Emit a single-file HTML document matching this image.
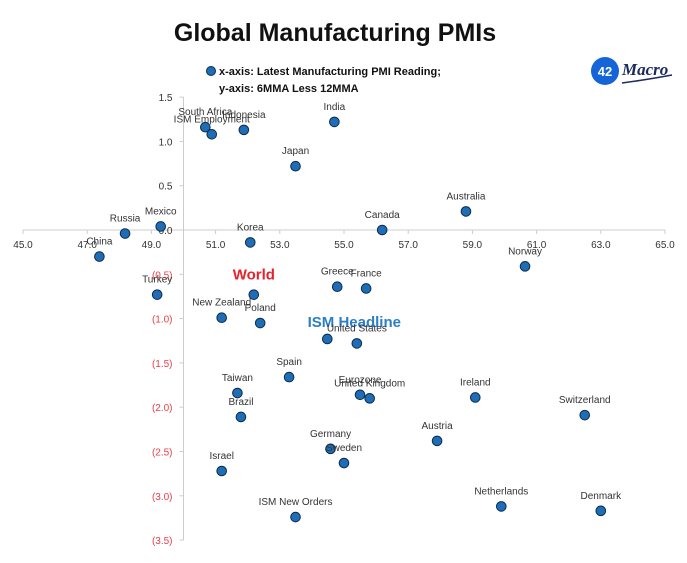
<!DOCTYPE html>
<html><head><meta charset="utf-8"><style>
body{margin:0;background:#fff;width:687px;height:558px;overflow:hidden;font-family:"Liberation Sans",sans-serif}
</style></head><body>
<svg id="chart" width="687" height="558" xmlns="http://www.w3.org/2000/svg">
<text x="335" y="41" text-anchor="middle" font-size="25" font-weight="bold" fill="#111">Global Manufacturing PMIs</text>
<circle cx="211" cy="71" r="4.5" fill="#1f6eb5" stroke="#0b2c4f" stroke-width="1"/>
<text x="219" y="75" font-size="11" font-weight="bold" fill="#111">x-axis: Latest Manufacturing PMI Reading;</text>
<text x="219" y="92" font-size="11" font-weight="bold" fill="#111">y-axis: 6MMA Less 12MMA</text>
<g>
<circle cx="605" cy="71" r="14" fill="#1565d8"/>
<text x="605" y="76" text-anchor="middle" font-size="13" font-weight="bold" fill="#fff">42</text>
<text x="622" y="75" font-size="17" font-style="italic" font-weight="bold" font-family="Liberation Serif,serif" fill="#1a2b5e">Macro</text>
<path d="M622 83 Q645 80 672 75" stroke="#1a2b5e" stroke-width="1.5" fill="none"/>
</g>
<g id="axes"></g>
<g id="points"></g>
</svg>
<script>
const countries=["South Africa","ISM Employment","Indonesia","India","Japan","Australia","Mexico","Russia","Canada","Korea","China","Norway","World","Turkey","Greece","France","New Zealand","Poland","ISM Headline","United States","Spain","Taiwan","Eurozone","United Kingdom","Ireland","Switzerland","Brazil","Austria","Germany","Sweden","Israel","ISM New Orders","Netherlands","Denmark"];
const pmiValues=[50.68,50.88,51.88,54.70,53.49,58.8,49.29,48.18,56.19,52.08,47.38,60.64,52.19,49.18,54.79,55.69,51.19,52.39,54.48,55.4,53.29,51.68,55.5,55.8,59.09,62.5,51.79,57.9,54.58,55.0,51.19,53.49,59.9,63.0];
const diffValues=[1.16,1.08,1.13,1.22,0.72,0.21,0.04,-0.04,0.0,-0.14,-0.30,-0.41,-0.73,-0.73,-0.64,-0.66,-0.99,-1.05,-1.23,-1.28,-1.66,-1.84,-1.86,-1.90,-1.89,-2.09,-2.11,-2.38,-2.47,-2.63,-2.72,-3.24,-3.12,-3.17];
const xTicks=["45.0","47.0","49.0","51.0","53.0","55.0","57.0","59.0","61.0","63.0","65.0"];
const yTicks=["1.5","1.0","0.5","0.0","(0.5)","(1.0)","(1.5)","(2.0)","(2.5)","(3.0)","(3.5)"];
const NS="http://www.w3.org/2000/svg";
function xs(v){return 23+(v-45)*32.1;}
function ys(v){return 230-v*88.6;}
function mk(t,a,p){const e=document.createElementNS(NS,t);for(const k in a)e.setAttribute(k,a[k]);p.appendChild(e);return e;}
const ax=document.getElementById('axes');
let l=mk('line',{x1:xs(45),y1:ys(0),x2:xs(65),y2:ys(0),stroke:'#ccc','stroke-width':1},ax);


l=mk('line',{x1:xs(50),y1:ys(1.5),x2:xs(50),y2:ys(-3.5),stroke:'#ccc','stroke-width':1},ax);


xTicks.forEach(t=>{const v=parseFloat(t);
 mk('line',{x1:xs(v),y1:ys(0),x2:xs(v),y2:ys(0)+4,stroke:'#ccc'},ax);
 const e=mk('text',{x:xs(v),y:ys(0)+18,'text-anchor':'middle','font-size':10,fill:'#333'},ax);e.textContent=t;
 
 });
yTicks.forEach(t=>{const neg=t.startsWith('(');const v=parseFloat(t.replace(/[()]/g,''))*(neg?-1:1);
 mk('line',{x1:xs(50)-4,y1:ys(v),x2:xs(50),y2:ys(v),stroke:'#ccc'},ax);
 const e=mk('text',{x:xs(50)-11,y:ys(v)+4,'text-anchor':'end','font-size':10,fill:neg?'#e8404a':'#333'},ax);e.textContent=t;
 
 });
const pg=document.getElementById('points');
countries.forEach((c,i)=>{const x=xs(pmiValues[i]),y=ys(diffValues[i]);
 const d=mk('circle',{cx:x,cy:y,r:4.8,fill:'#1f6eb5',stroke:'#0b2c4f','stroke-width':1},pg);
 
 
 let attrs={x:x,y:y-12,'text-anchor':'middle','font-size':10,fill:'#333'};
 if(c==='World'){attrs={x:x,y:y-15,'text-anchor':'middle','font-size':15,'font-weight':'bold',fill:'#e8202a'};}
 if(c==='ISM Headline'){attrs={x:x+27,y:y-12,'text-anchor':'middle','font-size':15,'font-weight':'bold',fill:'#2a7fc8'};}
 const t=mk('text',attrs,pg);t.textContent=c;
 
 });
</script>
</body></html>
